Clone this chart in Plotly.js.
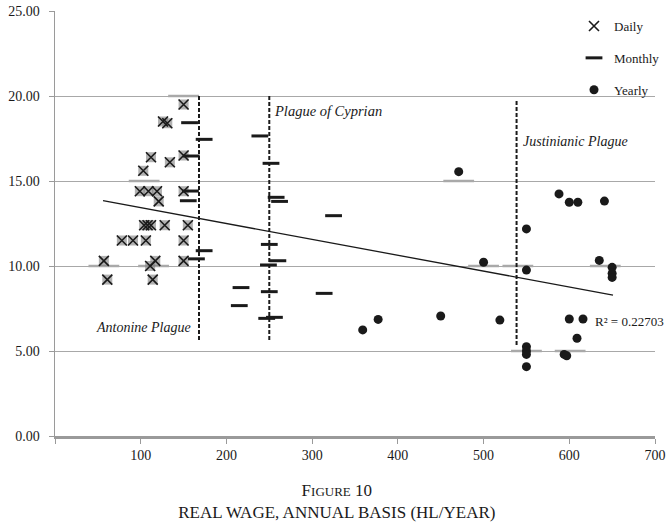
<!DOCTYPE html>
<html>
<head>
<meta charset="utf-8">
<script src="https://cdn.plot.ly/plotly-3.0.1.min.js"></script>
<style>
  html, body { margin: 0; padding: 0; background: #fff; }
  #graph { width: 671px; height: 524px; }
</style>
</head>
<body>
<div id="graph"></div>
<script>
"use strict";

// --- veri: günlük (daily) ücretler ---
const dailyX = [150, 126, 131, 112, 150, 134, 103, 99, 109, 119, 121, 150, 104, 108, 112, 128, 155,
    78, 91, 106, 150, 57, 111, 117, 150, 61, 114];
const dailyY = [19.5, 18.5, 18.4, 16.4, 16.5, 16.1, 15.6, 14.4, 14.4, 14.4, 13.8, 14.4, 12.4, 12.4, 12.4, 12.4, 12.4,
    11.5, 11.5, 11.5, 11.5, 10.3, 10.0, 10.3, 10.3, 9.2, 9.2];

// --- aylık (monthly) ---
const monthlyX = [157, 174, 159, 158, 155.5, 174, 165, 239, 252, 258, 262, 325, 250, 249, 260, 217, 250, 314, 215, 247, 256];
const monthlyY = [18.43, 17.45, 16.47, 14.41, 13.84, 10.9, 10.42, 17.65, 16.04, 14.04, 13.8, 12.96, 11.27, 10.06, 10.31,
    8.73, 8.49, 8.39, 7.67, 6.92, 6.98];

// --- yıllık (yearly) ---
const yearlyX = [471, 500, 359, 377, 450, 519, 550, 550, 550, 550, 550, 550, 588, 600, 610, 641, 635, 650, 650, 650,
    600, 616, 609, 594, 597];
const yearlyY = [15.55, 10.22, 6.24, 6.86, 7.06, 6.82, 12.18, 9.76, 5.25, 5.0, 4.8, 4.08, 14.24, 13.75, 13.75, 13.82,
    10.33, 9.92, 9.57, 9.33, 6.88, 6.88, 5.75, 4.8, 4.72];

// gri kısa çizgiler (ızgara üzerindeki değerler)
const grayX = [150, 104, 57, 115, 540, 642, 550, 601, 471, 500];
const grayY = [20, 15, 10, 10, 10, 10, 5, 5, 15, 10];

// doğrusal eğilim çizgisi uç noktaları
const trendX = [56, 651];
const trendY = [13.84, 8.29];
const rSquared = 0.22703;

// salgın çizgileri
const plagueNames = ['Antonine Plague', 'Plague of Cyprian', 'Justinianic Plague'];
const plagueX = [168, 250, 538.5];
const plagueTop = [20, 20, 19.7];
const plagueBottom = [5.65, 5.6, 5.35];

const xTicks = [0, 100, 200, 300, 400, 500, 600, 700];

const SERIF = '"Liberation Serif", "Times New Roman", serif';
const INK = '#1a1a1a';

const traces = [];

traces.push({
    x: grayX, y: grayY, mode: 'markers', type: 'scatter', showlegend: false, hoverinfo: 'skip',
    marker: { symbol: 'line-ew', size: 22, line: { width: 2.5, color: '#a9a9a9' } }
});

traces.push({
    x: trendX, y: trendY, mode: 'lines', type: 'scatter', showlegend: false, hoverinfo: 'skip',
    line: { color: INK, width: 1.3 }
});

plagueX.forEach((px, i) => {
    traces.push({
        x: [px, px], y: [plagueTop[i], plagueBottom[i]], mode: 'lines', type: 'scatter',
        showlegend: false, hoverinfo: 'skip', name: plagueNames[i],
        line: { color: INK, width: 2, dash: '4px,2px' }
    });
});

// günlük işaretlerin gri gölgesi
traces.push({
    x: dailyX, y: dailyY, mode: 'markers', type: 'scatter', showlegend: false, hoverinfo: 'skip',
    marker: { symbol: 'square', size: 10, color: 'rgba(125,125,125,0.6)' }
});

traces.push({
    x: dailyX, y: dailyY, mode: 'markers', type: 'scatter', name: 'Daily', legendgroup: 'd',
    marker: { symbol: 'x-thin', size: 10, line: { width: 1.6, color: INK } }
});

traces.push({
    x: monthlyX, y: monthlyY, mode: 'markers', type: 'scatter', name: 'Monthly', legendgroup: 'm',
    marker: { symbol: 'line-ew', size: 12, line: { width: 3, color: INK } }
});

traces.push({
    x: yearlyX, y: yearlyY, mode: 'markers', type: 'scatter', name: 'Yearly', legendgroup: 'y',
    marker: { symbol: 'circle', size: 9, color: INK }
});

const annotations = [
    { x: plagueX[0] - 7, y: 6.41, xref: 'x', yref: 'y', text: plagueNames[0], showarrow: false,
      xanchor: 'right', yanchor: 'middle', font: { family: SERIF, size: 14, color: INK, style: 'italic' } },
    { x: plagueX[1] + 3, y: 19.1, xref: 'x', yref: 'y', text: plagueNames[1], showarrow: false,
      xanchor: 'left', yanchor: 'middle', font: { family: SERIF, size: 14.5, color: INK, style: 'italic' } },
    { x: plagueX[2] + 5, y: 17.35, xref: 'x', yref: 'y', text: plagueNames[2], showarrow: false,
      xanchor: 'left', yanchor: 'middle', font: { family: SERIF, size: 14, color: INK, style: 'italic' } },
    { x: 628, y: 6.76, xref: 'x', yref: 'y', text: 'R² = ' + rSquared.toFixed(5), showarrow: false,
      xanchor: 'left', yanchor: 'middle', font: { family: SERIF, size: 13, color: INK } }
];

const layout = {
    width: 671, height: 524,
    margin: { l: 55, r: 16, t: 11, b: 88, autoexpand: false },
    paper_bgcolor: '#fff', plot_bgcolor: '#fff',
    font: { family: SERIF, size: 14, color: INK },
    title: {
        text: "F<span style='font-size:13px'>IGURE</span> 10<br>REAL WAGE, ANNUAL BASIS (HL/YEAR)",
        font: { family: SERIF, size: 17, color: INK },
        xref: 'container', yref: 'container', x: 0.502, y: 0.053, xanchor: 'center', yanchor: 'middle'
    },
    xaxis: {
        range: [0, 700], showgrid: false, zeroline: false,
        showline: true, linecolor: '#9a9a9a', linewidth: 2.5,
        ticks: 'outside', ticklen: 5, tickcolor: '#9a9a9a', tickwidth: 1,
        tickvals: xTicks, ticktext: xTicks.map(v => v === 0 ? '' : String(v)),
        tickfont: { family: SERIF, size: 14, color: INK }
    },
    yaxis: {
        range: [0, 25], dtick: 5, tickformat: '.2f', zeroline: false,
        showgrid: true, gridcolor: '#a8a8a8', gridwidth: 1,
        showline: true, linecolor: '#9a9a9a', linewidth: 1.5,
        ticks: 'outside', ticklen: 5, tickcolor: '#9a9a9a',
        ticklabelstandoff: 6,
        tickfont: { family: SERIF, size: 14, color: INK }
    },
    showlegend: true,
    legend: {
        x: 0.865, y: 1.0, xanchor: 'left', yanchor: 'top',
        traceorder: 'grouped', tracegroupgap: 12,
        bgcolor: 'rgba(0,0,0,0)', borderwidth: 0, itemwidth: 30,
        font: { family: SERIF, size: 13, color: INK }
    },
    annotations: annotations
};

Plotly.newPlot('graph', traces, layout, { displayModeBar: false, staticPlot: true }).catch(err => {
    console.error("Grafik çizilirken hata:", err);
});
</script>
</body>
</html>
